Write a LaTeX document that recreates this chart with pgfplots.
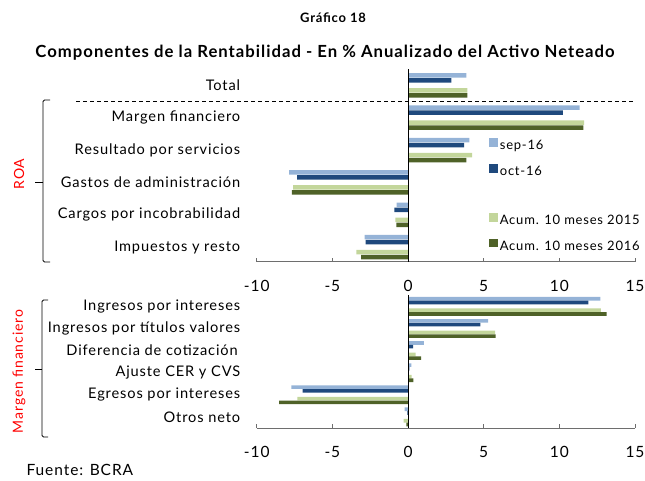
\documentclass[border=0pt]{standalone}
\usepackage{fontspec}
\setmainfont{Lato}[LetterSpace=6]
\usepackage{pgfplots}
\pgfplotsset{compat=1.18}
\definecolor{sepc}{RGB}{149,179,215}
\definecolor{octc}{RGB}{31,73,125}
\definecolor{acA}{RGB}{195,214,155}
\definecolor{acB}{RGB}{79,98,40}
\definecolor{axc}{RGB}{110,110,110}
\newcommand{\lf}{\fontsize{14.6bp}{17bp}\selectfont}
\newcommand{\tf}{\fontsize{15.5bp}{17bp}\selectfont}
\pgfplotsset{
  mystyle/.style={
    scale only axis, width=378.3bp,
    xmin=-10, xmax=15,
    axis x line*=bottom, axis y line*=left,
    y axis line style={draw=none},
    x axis line style={draw=axc, line width=0.8pt},
    xtick={-10,-5,0,5,10,15},
    xticklabels={-10,-5,0,5,10,15},
    xtick align=inside,
    xtick style={draw=axc, line width=0.8pt},
    major tick length=4bp,
    ytick={0,1,2,3,4,5},
    ytick style={draw=none},
    xticklabel style={font=\tf, yshift=-15bp},
    yticklabel style={font=\lf, xshift=-13bp},
    clip=false,
  },
}
\begin{document}
\begin{tikzpicture}[x=1bp,y=1bp]
\path[use as bounding box] (0,0) rectangle (645,-481);
\node[font=\bfseries\fontsize{13bp}{15bp}\selectfont] at (333,-18) {Gráfico 18};
\node[font=\bfseries\fontsize{16.7bp}{18bp}\selectfont] at (325,-53) {Componentes de la Rentabilidad - En \% Anualizado del Activo Neteado};

\begin{axis}[mystyle, at={(256.7bp,-69.1bp)}, anchor=north west, height=192.7bp,
  ymin=-0.45, ymax=5.5,
  yticklabels={Impuestos y resto,Cargos por incobrabilidad,Gastos de administración,Resultado por servicios,Margen financiero,Total},
  legend style={at={(0.614,0.641)}, anchor=north west, draw=none, fill=none,
    font=\fontsize{13bp}{15bp}\selectfont,
    row sep=11.2bp, inner sep=0pt, nodes={inner sep=0pt, text height=9bp, text depth=3bp}},
  legend cell align=left,
  legend image code/.code={\fill[#1] (0bp,0bp) rectangle (8.5bp,8.5bp);},
]
\addplot[xbar, bar width=4.5bp, bar shift=10bp, fill=sepc, draw=none] coordinates {(3.85,5) (11.34,4) (4.05,3) (-7.86,2) (-0.75,1) (-2.86,0)};
\addlegendentry{\,sep-16}
\addplot[xbar, bar width=4.5bp, bar shift=5bp, fill=octc, draw=none] coordinates {(2.86,5) (10.24,4) (3.70,3) (-7.33,2) (-0.90,1) (-2.80,0)};
\addlegendentry{\,oct-16}
\addlegendimage{empty legend}
\addlegendentry{}
\addplot[xbar, bar width=4.5bp, bar shift=-5bp, fill=acA, draw=none] coordinates {(3.92,5) (11.63,4) (4.23,3) (-7.60,2) (-0.84,1) (-3.41,0)};
\addlegendentry{\,Acum. 10 meses 2015}
\addplot[xbar, bar width=4.5bp, bar shift=-10bp, fill=acB, draw=none] coordinates {(3.92,5) (11.59,4) (3.85,3) (-7.67,2) (-0.77,1) (-3.10,0)};
\addlegendentry{\,Acum. 10 meses 2016}
\draw[black, line width=0.8pt] (axis cs:0,-0.45) -- (axis cs:0,5.5);
\end{axis}

\begin{axis}[mystyle, at={(256.7bp,-295.3bp)}, anchor=north west, height=132.6bp,
  ymin=-0.5, ymax=5.5,
  yticklabels={Otros neto,Egresos por intereses,Ajuste CER y CVS,Diferencia de cotización\,,Ingresos por títulos valores,Ingresos por intereses},
]
\addplot[xbar, bar width=3.6bp, bar shift=7.6bp, fill=sepc, draw=none] coordinates {(12.71,5) (5.29,4) (1.04,3) (0.22,2) (-7.71,1) (-0.22,0)};
\addplot[xbar, bar width=3.6bp, bar shift=3.9bp, fill=octc, draw=none] coordinates {(11.92,5) (4.78,4) (0.33,3) (0.09,2) (-6.96,1) (-0.05,0)};
\addplot[xbar, bar width=3.6bp, bar shift=-3.9bp, fill=acA, draw=none] coordinates {(12.75,5) (5.75,4) (0.51,3) (0.24,2) (-7.31,1) (-0.29,0)};
\addplot[xbar, bar width=3.6bp, bar shift=-7.6bp, fill=acB, draw=none] coordinates {(13.13,5) (5.79,4) (0.86,3) (0.35,2) (-8.52,1) (-0.11,0)};
\draw[black, line width=0.8pt] (axis cs:0,-0.5) -- (axis cs:0,5.5);
\end{axis}

\draw[line width=0.8pt, dash pattern=on 4bp off 3bp] (76,-101.5) -- (636,-101.5);
\draw[line width=0.8pt, rounded corners=1.5bp] (50,-100) -- (43,-100) -- (43,-262) -- (50,-262);
\draw[line width=0.8pt] (43,-182) -- (35,-182);
\node[rotate=90, text=red, font=\fontsize{14bp}{16bp}\selectfont] at (19,-174) {ROA};
\draw[line width=0.8pt, rounded corners=1.5bp] (48,-300) -- (42,-300) -- (42,-437) -- (48,-437);
\draw[line width=0.8pt] (42,-369) -- (35,-369);
\node[rotate=90, text=red, font=\fontsize{14bp}{16bp}\selectfont] at (19,-371.5) {Margen financiero};
\node[anchor=west, font=\tf] at (23,-470) {Fuente: BCRA};
\end{tikzpicture}
\end{document}
